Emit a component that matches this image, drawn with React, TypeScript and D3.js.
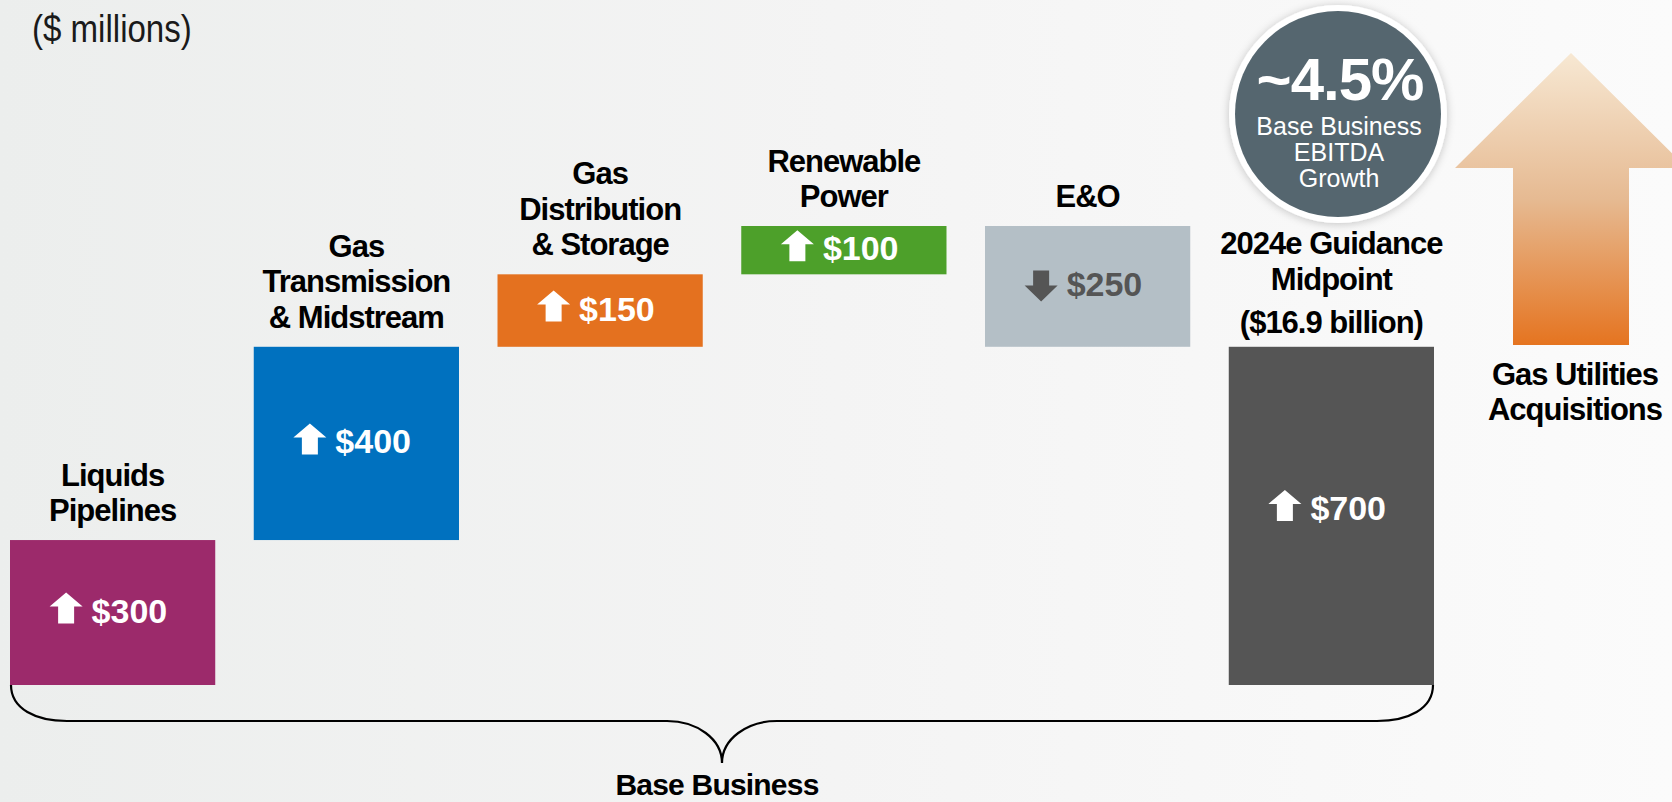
import React from "react";
import * as d3 from "d3";

const W = 1672;
const H = 802;

const categories = [
  "Liquids Pipelines",
  "Gas Transmission & Midstream",
  "Gas Distribution & Storage",
  "Renewable Power",
  "E&O",
  "2024e Guidance Midpoint",
];
const labelLines = [
  ["Liquids", "Pipelines"],
  ["Gas", "Transmission", "& Midstream"],
  ["Gas", "Distribution", "& Storage"],
  ["Renewable", "Power"],
  ["E&O"],
  ["2024e Guidance", "Midpoint"],
];
const totalSubLabel = "($16.9 billion)";
const changes = [300, 400, 150, 100, -250, 700];
const isTotal = [false, false, false, false, false, true];
const barColors = ["#9C2A6B", "#0071BF", "#E4711F", "#4DA02A", "#B4BFC6", "#555555"];
const valueColors = ["#FFFFFF", "#FFFFFF", "#FFFFFF", "#FFFFFF", "#555555", "#FFFFFF"];

const unitsLabel = "($ millions)";
const braceLabel = "Base Business";
const circleBig = "~4.5%";
const circleLines = ["Base Business", "EBITDA", "Growth"];
const arrowLines = ["Gas Utilities", "Acquisitions"];

const FONT = "'Liberation Sans', Arial, Helvetica, sans-serif";

export default function App() {
  const x = d3
    .scaleBand<string>()
    .domain(categories)
    .range([10, 1434])
    .paddingInner(0.158)
    .paddingOuter(0);
  const y = d3.scaleLinear().domain([0, 950]).range([685, 226]);

  let cum = 0;
  const bars = categories.map((c, i) => {
    let y0: number, y1: number;
    if (isTotal[i]) {
      y0 = 0;
      y1 = changes[i];
    } else {
      y0 = cum;
      y1 = cum + changes[i];
    }
    cum = y1;
    const top = y(Math.max(y0, y1));
    const bottom = y(Math.min(y0, y1));
    const x0 = x(c) as number;
    return {
      c,
      i,
      x0,
      w: x.bandwidth(),
      cx: x0 + x.bandwidth() / 2,
      top,
      bottom,
      up: changes[i] >= 0,
      text: "$" + d3.format("d")(Math.abs(changes[i])),
    };
  });

  const left = bars[0];
  const right = bars[bars.length - 1];
  const baseY = left.bottom;
  const lineY = baseY + 36;
  const midX = 722;
  const tipY = lineY + 42;
  const bracePath = [
    `M${left.x0 + 1},${baseY}`,
    `C${left.x0 + 1},${baseY + 24} ${left.x0 + 26},${lineY} ${left.x0 + 57},${lineY}`,
    `L${midX - 55},${lineY}`,
    `C${midX - 25},${lineY} ${midX},${lineY + 18} ${midX},${tipY}`,
    `C${midX},${lineY + 18} ${midX + 25},${lineY} ${midX + 55},${lineY}`,
    `L${right.x0 + right.w - 57},${lineY}`,
    `C${right.x0 + right.w - 26},${lineY} ${right.x0 + right.w - 1},${baseY + 24} ${right.x0 + right.w - 1},${baseY}`,
  ].join(" ");

  const lh = 35.5;

  // big arrow geometry
  const ax = 1571;
  const aTip = 53;
  const aHeadBase = 168;
  const aHeadHalf = 116;
  const aShaftHalf = 58;
  const aBottom = 345;
  const bigArrow = `M${ax},${aTip} L${ax + aHeadHalf},${aHeadBase} L${ax + aShaftHalf},${aHeadBase} L${ax + aShaftHalf},${aBottom} L${ax - aShaftHalf},${aBottom} L${ax - aShaftHalf},${aHeadBase} L${ax - aHeadHalf},${aHeadBase} Z`;

  const ccx = 1338;
  const ccy = 114;

  return (
    <svg
      width={W}
      height={H}
      viewBox={`0 0 ${W} ${H}`}
      style={{ position: "absolute", left: 0, top: 0, display: "block" }}
    >
      <defs>
        <linearGradient id="bg" x1="0" x2="1" y1="0" y2="0">
          <stop offset="0" stopColor="#ECEEED" />
          <stop offset="0.5" stopColor="#F4F4F4" />
          <stop offset="1" stopColor="#FBFBFB" />
        </linearGradient>
        <linearGradient id="arrowGrad" x1="0" x2="0" y1="0" y2="1">
          <stop offset="0" stopColor="#F7E8D3" />
          <stop offset="0.5" stopColor="#E6BA92" />
          <stop offset="1" stopColor="#E57420" />
        </linearGradient>
        <filter id="shadow" x="-20%" y="-20%" width="140%" height="140%">
          <feDropShadow dx="0" dy="1" stdDeviation="4" floodColor="#000" floodOpacity="0.22" />
        </filter>
      </defs>
      <rect x={0} y={0} width={W} height={H} fill="url(#bg)" />

      <text
        transform="translate(32,42) scale(0.87,1)"
        x={0}
        y={0}
        fontFamily={FONT}
        fontSize={38}
        fill="#1a1a1a"
      >
        {unitsLabel}
      </text>

      {bars.map((b) => {
        const bl = (b.top + b.bottom) / 2 + (isTotal[b.i] ? 4 : 10);
        const ax0 = b.cx - 63;
        const aw = 33;
        const acx = ax0 + aw / 2;
        let arrowPath: string;
        if (b.up) {
          const t = bl - 30;
          const hb = t + 14;
          const bot = bl + 1;
          arrowPath = `M${acx},${t} L${ax0 + aw},${hb} L${acx + 8},${hb} L${acx + 8},${bot} L${acx - 8},${bot} L${acx - 8},${hb} L${ax0},${hb} Z`;
        } else {
          const t = bl - 26;
          const hb = t + 15;
          const bot = bl + 5;
          arrowPath = `M${acx - 8},${t} L${acx + 8},${t} L${acx + 8},${hb} L${ax0 + aw},${hb} L${acx},${bot} L${ax0},${hb} L${acx - 8},${hb} Z`;
        }
        const lines = labelLines[b.i];
        const lastBase = isTotal[b.i] ? b.top - 14 - 43 : b.top - 19;
        return (
          <g key={b.c}>
            <rect x={b.x0} y={b.top} width={b.w} height={b.bottom - b.top} fill={barColors[b.i]} />
            <path d={arrowPath} fill={valueColors[b.i]} />
            <text
              x={b.cx - 21}
              y={bl}
              fontFamily={FONT}
              fontWeight={700}
              fontSize={34}
              fill={valueColors[b.i]}
            >
              {b.text}
            </text>
            {lines.map((ln, k) => (
              <text
                key={k}
                x={b.cx}
                y={lastBase - (lines.length - 1 - k) * lh}
                textAnchor="middle"
                fontFamily={FONT}
                fontWeight={700}
                fontSize={31}
                letterSpacing={-1}
                fill="#000"
              >
                {ln}
              </text>
            ))}
            {isTotal[b.i] && (
              <text
                x={b.cx}
                y={b.top - 14}
                textAnchor="middle"
                fontFamily={FONT}
                fontWeight={700}
                fontSize={31}
                letterSpacing={-1}
                fill="#000"
              >
                {totalSubLabel}
              </text>
            )}
          </g>
        );
      })}

      <path d={bracePath} fill="none" stroke="#000" strokeWidth={2.2} />
      <text
        x={717}
        y={795}
        textAnchor="middle"
        fontFamily={FONT}
        fontWeight={700}
        fontSize={30}
        letterSpacing={-0.8}
        fill="#000"
      >
        {braceLabel}
      </text>

      <g>
        <circle cx={ccx} cy={ccy} r={109} fill="#FFFFFF" filter="url(#shadow)" />
        <circle cx={ccx} cy={ccy} r={103} fill="#55666F" />
        <text
          x={ccx + 2}
          y={100}
          textAnchor="middle"
          fontFamily={FONT}
          fontWeight={700}
          fontSize={60}
          letterSpacing={-1}
          fill="#FFFFFF"
        >
          {circleBig}
        </text>
        {circleLines.map((ln, k) => (
          <text
            key={k}
            x={ccx + 1}
            y={135 + k * 26}
            textAnchor="middle"
            fontFamily={FONT}
            fontSize={25}
            fill="#FFFFFF"
          >
            {ln}
          </text>
        ))}
      </g>

      <path d={bigArrow} fill="url(#arrowGrad)" />
      {arrowLines.map((ln, k) => (
        <text
          key={k}
          x={1575}
          y={385 + k * 35}
          textAnchor="middle"
          fontFamily={FONT}
          fontWeight={700}
          fontSize={31}
          letterSpacing={-1}
          fill="#000"
        >
          {ln}
        </text>
      ))}
    </svg>
  );
}
